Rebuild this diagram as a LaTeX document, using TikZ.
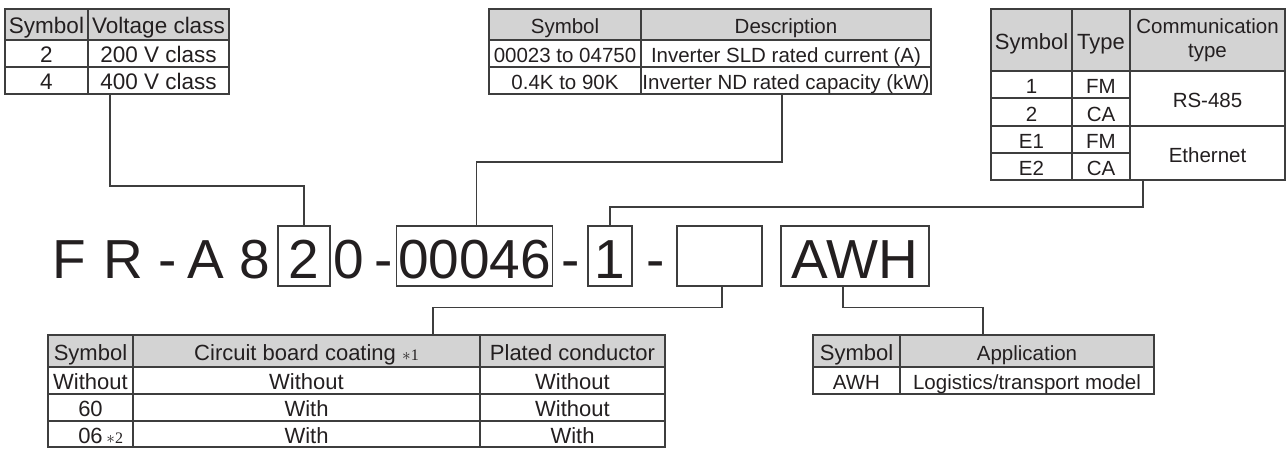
\documentclass[tikz,border=0pt]{standalone}
\usepackage{fontspec}
\setmainfont{Liberation Sans}
\newfontfamily\tabfont{Liberation Sans}
\newfontfamily\codefont{Liberation Sans}
\newfontfamily\notefont{Liberation Serif}
\usepackage{tikz}
\usetikzlibrary{positioning}
\definecolor{headgray}{RGB}{211,211,211}
\definecolor{linegray}{RGB}{62,62,62}
\definecolor{inkgray}{RGB}{35,31,32}
\tikzset{
    cellbase/.style={draw=linegray, line width=1.3pt, rectangle, inner sep=0pt, outer sep=0pt, anchor=north west, align=center, text=inkgray, font=\tabfont\fontsize{22}{24}\selectfont},
    cell/.style={cellbase, text height=18pt, text depth=0pt},
    head/.style={cell, fill=headgray},
    headtall/.style={cellbase, fill=headgray},
    big/.style={font=\tabfont\fontsize{22.5}{25}\selectfont},
    small/.style={font=\tabfont\fontsize{20.5}{23.5}\selectfont},
    codebox/.style={draw=linegray, line width=1.3pt, minimum height=60pt, inner sep=0pt, text height=44pt, text depth=0pt, text=inkgray, font=\codefont\fontsize{55}{60}\selectfont},
    codechar/.style={codebox, draw=none},
    link/.style={draw=linegray, line width=1.3pt}
}
% style, x1, y1, x2, y2, name, text
\newcommand{\tcell}[7]{\node[#1, minimum width={#4pt-#2pt}, minimum height={#5pt-#3pt}] (#6) at (#2,#3) {#7};}
\newcommand{\note}[1]{{\notefont\fontsize{16}{16}\selectfont$\ast$#1}}

\begin{document}
\begin{tikzpicture}[x=1pt, y=-1pt]
    \useasboundingbox (0,0) rectangle (1287,448);

    % voltage class
    \tcell{head,big}{5}{9}{88}{40}{vc-h1}{Symbol}
    \tcell{head,big}{88}{9}{229}{40}{vc-h2}{Voltage class}
    \tcell{cell,big}{5}{40}{88}{67}{vc-a1}{2}
    \tcell{cell,big}{88}{40}{229}{67}{vc-a2}{200 V class}
    \tcell{cell,big}{5}{67}{88}{94}{vc-b1}{4}
    \tcell{cell,big}{88}{67}{229}{94}{vc-b2}{400 V class}

    % capacity
    \tcell{head,small}{489}{9}{641}{40}{cap-h1}{Symbol}
    \tcell{head,small}{641}{9}{931}{40}{cap-h2}{Description}
    \tcell{cell,small}{489}{40}{641}{67}{cap-a1}{00023 to 04750}
    \tcell{cell,small}{641}{40}{931}{67}{cap-a2}{Inverter SLD rated current (A)}
    \tcell{cell,small}{489}{67}{641}{94}{cap-b1}{0.4K to 90K}
    \tcell{cell,small}{641}{67}{931}{94}{cap-b2}{Inverter ND rated capacity (kW)}

    % communication
    \tcell{head}{991}{9}{1072}{71}{comm-h1}{Symbol}
    \tcell{head}{1072}{9}{1130}{71}{comm-h2}{Type}
    \tcell{headtall,small}{1130}{9}{1285}{71}{comm-h3}{Communication\\type}
    \tcell{cell,small}{991}{71}{1072}{98}{comm-a1}{1}
    \tcell{cell,small}{1072}{71}{1130}{98}{comm-a2}{FM}
    \tcell{cell,small}{991}{98}{1072}{126}{comm-b1}{2}
    \tcell{cell,small}{1072}{98}{1130}{126}{comm-b2}{CA}
    \tcell{cell,small}{991}{126}{1072}{153}{comm-c1}{E1}
    \tcell{cell,small}{1072}{126}{1130}{153}{comm-c2}{FM}
    \tcell{cell,small}{991}{153}{1072}{180}{comm-d1}{E2}
    \tcell{cell,small}{1072}{153}{1130}{180}{comm-d2}{CA}
    \tcell{cell,small}{1130}{71}{1285}{126}{comm-rs}{RS-485}
    \tcell{cell,small}{1130}{126}{1285}{180}{comm-eth}{Ethernet}

    % model code
    \node[codechar] (c-f) at (69,256) {F};
    \node[codechar] (c-r) at (123,256) {R};
    \node[codechar] (c-d1) at (168,256) {-};
    \node[codechar] (c-a) at (206,256) {A};
    \node[codechar] (c-8) at (255,256) {8};
    \node[codebox, minimum width=52pt] (vcode) at (304,256) {2};
    \node[codechar] (c-0) at (349,256) {0};
    \node[codechar] (c-d2) at (384,256) {-};
    \node[codebox, minimum width=156pt] (acode) at (474.5,256) {00046};
    \node[codechar] (c-d3) at (570.5,256) {-};
    \node[codebox, minimum width=44pt] (ccode) at (610,256) {1};
    \node[codechar] (c-d4) at (656,256) {-};
    \node[codebox, minimum width=85pt] (ocode) at (719.5,256) {};
    \node[codebox, minimum width=148pt] (pcode) at (855,256) {AWH};

    % coating
    \tcell{head}{48}{335}{133}{367}{coat-h1}{Symbol}
    \tcell{head}{133}{335}{480}{367}{coat-h2}{Circuit board coating \note{1}}
    \tcell{head}{480}{335}{665}{367}{coat-h3}{Plated conductor}
    \tcell{cell}{48}{367}{133}{394}{coat-a1}{Without}
    \tcell{cell}{133}{367}{480}{394}{coat-a2}{Without}
    \tcell{cell}{480}{367}{665}{394}{coat-a3}{Without}
    \tcell{cell}{48}{394}{133}{421}{coat-b1}{60}
    \tcell{cell}{133}{394}{480}{421}{coat-b2}{With}
    \tcell{cell}{480}{394}{665}{421}{coat-b3}{Without}
    \tcell{cell}{48}{421}{133}{447}{coat-c1}{06\rlap{\,\note{2}}}
    \tcell{cell}{133}{421}{480}{447}{coat-c2}{With}
    \tcell{cell}{480}{421}{665}{447}{coat-c3}{With}

    % application
    \tcell{head}{813}{335}{900}{367}{app-h1}{Symbol}
    \tcell{head,small}{900}{335}{1154}{367}{app-h2}{Application}
    \tcell{cell,small}{813}{367}{900}{394}{app-a1}{AWH}
    \tcell{cell,small}{900}{367}{1154}{394}{app-a2}{Logistics/transport model}

    % links
    \draw[link] ([xshift=22pt]vc-b2.south west) -- ++(0,92) -| (vcode.north);
    \draw[link] ([xshift=141pt]cap-b2.south west) -- ++(0,68) -| ([xshift=2pt]acode.north);
    \draw[link] ([xshift=13pt]comm-eth.south west) -- ++(0,27) -| (ccode.north);
    \draw[link] ([xshift=2.5pt]ocode.south) -- ++(0,21) -| ([xshift=300pt]coat-h2.north west);
    \draw[link] ([xshift=-12pt]pcode.south) -- ++(0,21) -| ([xshift=83pt]app-h2.north west);
\end{tikzpicture}
\end{document}
